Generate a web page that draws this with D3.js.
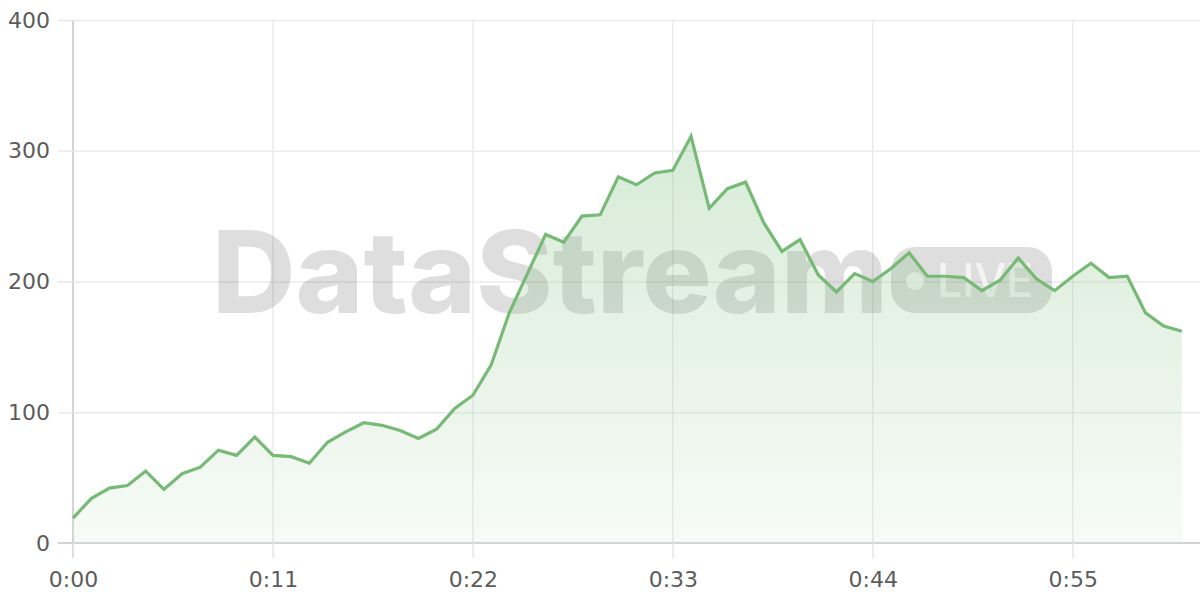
<!DOCTYPE html>
<html>
<head>
<meta charset="utf-8">
<script src="https://cdn.jsdelivr.net/npm/d3@7"></script>
<style>
  html, body { margin: 0; padding: 0; background: #fff; }
  svg { display: block; }
</style>
</head>
<body>
<svg id="chart" width="1200" height="600"></svg>
<script>
// ---- data ----
const seconds = d3.range(0, 62);
const values = [19, 34, 42, 44, 55, 41, 53, 58, 71, 67,
                81, 67, 66, 61, 77, 85, 92, 90, 86, 80,
                87, 103, 113, 136, 176, 206, 236, 230, 250, 251,
                280, 274, 283, 285, 311, 256, 271, 276, 245, 223,
                232, 205, 192, 206, 200, 210, 222, 204, 204, 203,
                193, 201, 218, 202, 193, 204, 214, 203, 204, 176,
                166, 162];
const xTicks = [0, 11, 22, 33, 44, 55];
const xTickLabels = ["0:00", "0:11", "0:22", "0:33", "0:44", "0:55"];
const yTicks = [0, 100, 200, 300, 400];
const watermarkText = "DataStream";
const badgeText = "LIVE";

const data = seconds.map((s, i) => ({ s, v: values[i] }));

const svg = d3.select("#chart");
const mLeft = 73, mRight = 1200, mTop = 20, mBottom = 543;

const x = d3.scaleLinear().domain([0, 62]).range([mLeft, mRight]);
const y = d3.scaleLinear().domain([0, 400]).range([mBottom, mTop]);

const lineColor = "#76ba76";
const gridColor = "#ebebeb";
const axisColor = "#d4d4d4";
const labelColor = "#5c5c5c";
const font = "'DejaVu Sans', sans-serif";

// gradient
const defs = svg.append("defs");
const grad = defs.append("linearGradient")
  .attr("id", "areaGrad")
  .attr("gradientUnits", "userSpaceOnUse")
  .attr("x1", 0).attr("x2", 0)
  .attr("y1", y(320)).attr("y2", y(0));
grad.append("stop").attr("offset", "0%").attr("stop-color", lineColor).attr("stop-opacity", 0.30);
grad.append("stop").attr("offset", "100%").attr("stop-color", lineColor).attr("stop-opacity", 0.06);

// grid: horizontal
svg.append("g").selectAll("line").data(yTicks.filter(d => d !== 0)).join("line")
  .attr("x1", mLeft - 15).attr("x2", mRight)
  .attr("y1", d => y(d) + 0.5).attr("y2", d => y(d) + 0.5)
  .attr("stroke", gridColor).attr("stroke-width", 1.5);
// grid: vertical
svg.append("g").selectAll("line").data(xTicks.filter(d => d !== 0)).join("line")
  .attr("x1", d => x(d)).attr("x2", d => x(d))
  .attr("y1", mTop).attr("y2", mBottom + 15)
  .attr("stroke", gridColor).attr("stroke-width", 1.5);

// watermark
const wm = svg.append("g").attr("class", "watermark");
wm.append("text")
  .attr("x", 212).attr("y", 313)
  .attr("font-family", "Inter, 'Open Sans', sans-serif")
  .attr("font-weight", 800)
  .attr("font-size", 114)
  .attr("textLength", 676)
  .attr("lengthAdjust", "spacingAndGlyphs")
  .attr("fill", "rgba(0,0,0,0.13)")
  .text(watermarkText);
wm.append("rect")
  .attr("x", 891).attr("y", 247).attr("width", 161).attr("height", 66)
  .attr("rx", 24).attr("ry", 24)
  .attr("fill", "rgba(0,0,0,0.13)");
wm.append("circle")
  .attr("cx", 915).attr("cy", 281).attr("r", 9)
  .attr("fill", "rgba(255,255,255,0.7)");
wm.append("text")
  .attr("x", 937).attr("y", 297)
  .attr("font-family", "Inter, 'Open Sans', sans-serif")
  .attr("font-weight", 500)
  .attr("font-size", 46)
  .attr("textLength", 96)
  .attr("lengthAdjust", "spacingAndGlyphs")
  .attr("fill", "rgba(255,255,255,0.7)")
  .text(badgeText);

// area
const area = d3.area().x(d => x(d.s)).y0(y(0)).y1(d => y(d.v));
svg.append("path").datum(data)
  .attr("d", area)
  .attr("fill", "url(#areaGrad)");

// axes
const yAxis = d3.axisLeft(y).tickValues(yTicks).tickSize(15).tickPadding(8).tickFormat(d3.format("d"));
const gy = svg.append("g").attr("transform", `translate(${mLeft},0)`).call(yAxis);
gy.select(".domain").attr("stroke", axisColor).attr("stroke-width", 2)
  .attr("d", `M0,${mTop}V${mBottom + 15}`);
gy.selectAll(".tick line").attr("stroke", gridColor).attr("stroke-width", 1.5);
gy.selectAll(".tick text").attr("fill", labelColor).attr("font-family", font).attr("font-size", 22);

const xAxis = d3.axisBottom(x).tickValues(xTicks).tickSize(15).tickPadding(13)
  .tickFormat((d, i) => xTickLabels[i]);
const gx = svg.append("g").attr("transform", `translate(0,${mBottom})`).call(xAxis);
gx.select(".domain").attr("stroke", axisColor).attr("stroke-width", 2)
  .attr("d", `M${mLeft - 15},0H${mRight}`);
gx.selectAll(".tick line").attr("stroke", gridColor).attr("stroke-width", 1.5);
gx.selectAll(".tick text").attr("fill", labelColor).attr("font-family", font).attr("font-size", 22);

// line
const line = d3.line().x(d => x(d.s)).y(d => y(d.v));
svg.append("path").datum(data)
  .attr("d", line)
  .attr("fill", "none")
  .attr("stroke", lineColor)
  .attr("stroke-width", 3.2)
  .attr("stroke-linejoin", "miter");
</script>
</body>
</html>
